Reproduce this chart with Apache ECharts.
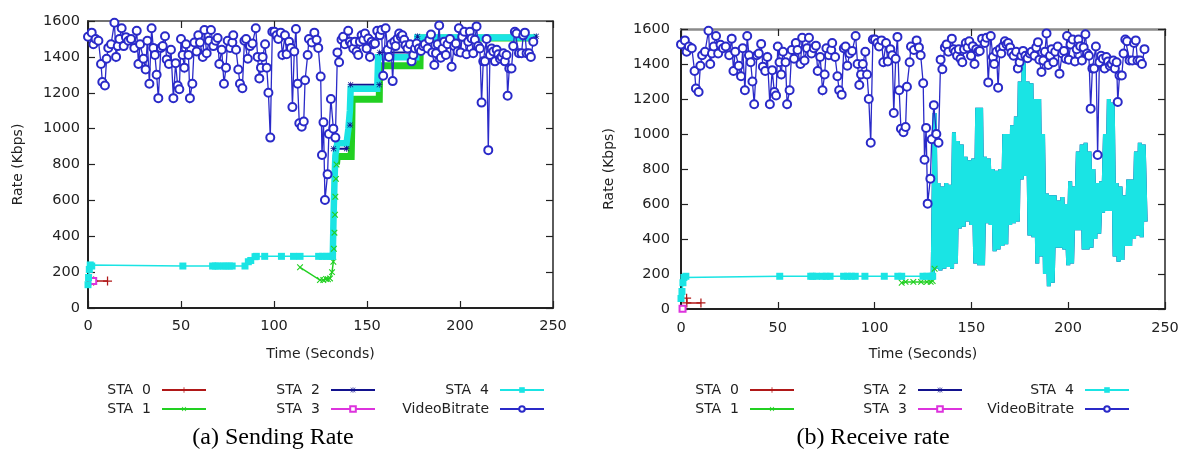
<!DOCTYPE html>
<html><head><meta charset="utf-8">
<script src="https://cdn.jsdelivr.net/npm/echarts@6/dist/echarts.min.js"></script>
<style>html,body{margin:0;padding:0;background:#fff}#c{width:1190px;height:456px}</style>
</head><body><div id="c"></div>
<script>
// ---------- Data ----------
const xTicks = [0, 50, 100, 150, 200, 250];
const yTicks = [0, 200, 400, 600, 800, 1000, 1200, 1400, 1600];

// VideoBitrate (same in both panels)
const vbTime = [0,2.0,2.9,4.1,5.6,7.0,7.7,9.1,10.0,10.9,12.4,14.2,15.1,16.0,16.9,18.1,19.2,20.4,21.7,23.1,24.9,26.2,27.1,28.0,29.8,31.0,31.9,33.0,34.2,35.1,36.0,36.9,37.8,39.2,40.2,41.4,42.3,43.5,44.6,45.9,47.1,48.2,49.1,50.0,50.9,51.8,52.7,54.0,54.8,56.1,57.2,58.4,59.3,60.2,61.7,62.6,63.8,65.1,66.1,67.4,68.6,69.7,70.6,71.9,73.1,74.2,75.1,76.4,77.6,78.1,79.6,80.8,81.7,83.0,84.1,85.0,85.9,87.1,88.4,90.2,91.2,92.1,93.0,93.9,95.2,96.1,97.0,98.0,99.1,100.2,101.4,102.3,103.6,104.5,105.9,106.8,108.1,109.1,109.9,110.9,111.8,112.7,113.6,114.9,116.0,116.7,118.1,118.8,120.3,121.7,122.9,123.8,125.1,125.8,126.6,127.4,128.8,129.5,130.6,131.9,133.0,134.1,135.0,136.3,137.2,138.1,139.9,140.8,141.7,142.6,143.5,144.4,145.3,146.2,147.1,148.0,148.9,149.8,150.7,151.6,152.5,153.4,154.3,155.5,156.9,157.8,158.7,160.0,161.1,161.8,162.9,163.8,164.7,165.4,166.4,167.3,168.2,169.0,170.0,170.7,171.8,173.1,174.0,174.9,175.8,176.7,177.9,179.0,180.2,181.1,182.6,183.5,184.4,185.1,186.2,187.1,188.0,188.8,189.7,190.6,191.5,192.4,193.3,194.6,195.5,196.9,197.8,198.7,199.4,200.3,201.2,202.3,203.5,204.4,205.3,206.2,207.1,208.0,208.9,209.8,210.7,211.6,212.5,213.4,214.3,215.2,216.1,217.0,217.9,218.8,219.7,220.6,221.5,222.4,223.3,224.1,225.0,225.6,226.5,227.7,228.6,229.5,230.4,231.7,233.1,234.0,234.9,235.8,237.1,238.1,239.4];
const vbRate = [1512,1535,1470,1500,1490,1360,1260,1240,1390,1450,1470,1590,1400,1460,1500,1560,1460,1510,1490,1500,1450,1545,1360,1470,1390,1330,1490,1250,1560,1450,1410,1300,1170,1450,1460,1515,1385,1360,1440,1170,1365,1240,1220,1500,1410,1340,1470,1410,1170,1250,1480,1430,1520,1480,1400,1550,1420,1490,1550,1460,1490,1505,1360,1440,1250,1340,1490,1450,1480,1520,1440,1330,1250,1225,1490,1500,1390,1460,1475,1560,1400,1280,1340,1400,1470,1340,1200,950,1540,1540,1520,1500,1535,1410,1520,1415,1485,1450,1120,1430,1555,1250,1030,1010,1040,1270,1410,1500,1480,1535,1495,1450,1290,853,1035,602,745,970,1165,1000,950,1425,1370,1495,1512,1470,1545,1485,1470,1447,1485,1430,1410,1485,1520,1495,1530,1447,1502,1400,1485,1470,1475,1545,1520,1550,1295,1560,1440,1400,1470,1265,1485,1460,1502,1530,1512,1520,1495,1465,1447,1470,1375,1410,1447,1475,1447,1433,1460,1470,1447,1495,1525,1425,1355,1420,1470,1575,1395,1447,1485,1410,1470,1500,1345,1460,1475,1430,1560,1425,1512,1540,1415,1485,1540,1502,1420,1495,1570,1460,1447,1145,1375,1375,1500,880,1410,1447,1430,1375,1440,1415,1390,1400,1420,1375,1410,1183,1335,1335,1460,1540,1530,1420,1420,1520,1535,1420,1420,1400,1485];

// (a) Sending rate
const sendSta0 = [[1.5,150],[3.0,150],[10.5,150]];
const sendSta1Low = [[114,227],[124.7,156],[126.5,156],[128,162],[129,160],[130.1,165],[131.2,200],[131.9,258],[132.2,330],[132.5,420],[132.8,520],[133.0,620],[133.3,720],[133.6,800]];
const sendSta1Steps = [[133.6,800],[134,845],[141.5,845],[141.8,1000],[142,1164],[156.6,1164],[156.8,1350],[178.5,1350],[178.7,1505],[241,1505]];
const sendSta2 = [[132,888],[139,888],[140.9,1020],[141.2,1245],[156.6,1245],[156.8,1425],[177,1425],[177.2,1515],[241,1515]];
const sendSta3 = [[2.5,150],[2.8,150]];
const sendSta4Low = [[0,130],[0.3,170],[0.7,215],[1.2,240],[2,234],[51,234],[67,234],[68.5,234],[70,234],[72.5,234],[74,234],[76,234],[77.5,234],[84.4,234],[86.2,258],[87.5,265],[89.8,286],[90.5,288],[95,288],[104,288],[110.5,288],[114,288],[124,288],[126,288],[128,288],[130,288],[131.5,288]];
const sendSta4Steps = [[131.6,288],[132,500],[132.5,700],[133,850],[134,918],[139,918],[140,1000],[140.8,1100],[141.2,1222],[155.5,1222],[156,1398],[176.5,1398],[177,1508],[241.5,1508]];

// (b) Receive rate
const rcvSta0 = [[2.9,62],[3.0,35],[10.3,35]];
const rcvSta1 = [[114,150],[116,155],[120,155],[124,155],[127,155],[129,155],[130,160],[131,230]];
const rcvSta3 = [[0.8,2]];
const rcvSta4Low = [[0,60],[0.5,100],[1,150],[1.5,180],[2.5,187],[51,187],[67,187],[68,187],[70,187],[73,187],[75,187],[77,187],[84,187],[86,187],[88,187],[90,187],[95,187],[105,187],[112,187],[114,187],[125,187],[127,187],[129,187],[130,187]];
// rapid oscillation: one sample per second from t = 130 to 240
const rcvOscStart = 130;
const rcvOscRate = [190,1120,230,720,220,700,230,720,240,710,230,1010,260,960,460,940,470,870,500,850,480,860,260,1150,250,1150,250,870,490,860,480,800,330,790,340,800,360,1000,370,1000,480,1050,490,1100,500,1300,740,1420,760,1300,420,1290,410,1200,260,1200,300,1000,200,660,130,650,150,650,350,620,350,640,340,600,250,730,260,700,450,900,450,940,340,950,340,900,350,800,400,720,430,730,550,1000,560,1200,560,1180,300,720,270,700,280,650,360,740,360,740,400,900,420,950,410,940,500];

// ---------- Chart ----------
const zip = (t, v) => t.map((x, i) => [x, v[i]]);
const vbData = zip(vbTime, vbRate);
const rcvOsc = rcvOscRate.map((v, i) => [rcvOscStart + i, v]);

const FONT = 'DejaVu Sans';
const COL = {red:'#b01818', green:'#22d022', navy:'#12128e', mag:'#dd33dd', cyan:'#1ae4e4', blue:'#2a2ac8'};
const PLUS = 'path://M4.3,0H5.7V4.3H10V5.7H5.7V10H4.3V5.7H0V4.3H4.3Z';
const STAR = 'path://M4.4,0H5.6V10H4.4Z M0,4.4H10V5.6H0Z M1.2,0.4L9.6,8.8L8.8,9.6L0.4,1.2Z M8.8,0.4L9.6,1.2L1.2,9.6L0.4,8.8Z';
const N = ['STA  0','STA  1','STA  2','STA  3','STA  4','VideoBitrate'];

function line(name, data, ax, color, o) {
  o = o || {};
  const s = {
    type:'line', name, data, xAxisIndex: ax*2, yAxisIndex: ax*2,
    symbol: o.symbol || 'none', symbolSize: o.size || 7, symbolRotate: o.rot || 0,
    showSymbol: !!o.symbol, showAllSymbol: true,
    lineStyle:{color, width: o.w || 1.5, cap:'butt', join:'miter'},
    itemStyle:{color: color},
    animation:false, silent:true, clip:true, z: 2
  };
  if (o.bw) s.itemStyle.borderWidth = o.bw;
  return s;
}

const series = [];
[[0, sendSta0, sendSta1Low, sendSta1Steps, sendSta2, sendSta3, sendSta4Low, sendSta4Steps],
 [1, rcvSta0, rcvSta1, null, rcvOsc, rcvSta3, rcvSta4Low, rcvOsc]].forEach(p => {
  const ax = p[0];
  series.push(line(N[0], p[1], ax, COL.red, {symbol: PLUS, size: 9}));
  series.push(line(N[1], p[2], ax, COL.green, {symbol: PLUS, rot: 45, size: 8}));
  if (p[3]) series.push(line(N[1], p[3], ax, COL.green, {w: 7}));
  if (ax === 0) series.push(line(N[2], p[4], ax, COL.navy, {symbol: STAR, size: 6, w: 2}));
  else series.push(line(N[2], p[4], ax, COL.navy, {w: 4}));
  series.push(line(N[3], p[5], ax, COL.mag, {symbol:'emptyRect', size: 6, bw: 1.2}));
  series.push(line(N[4], p[6], ax, COL.cyan, {symbol:'rect', size: 7}));
  series.push(line(N[4], p[7], ax, COL.cyan, {w: ax === 0 ? 6.5 : 4}));
  series.push(line(N[5], vbData, ax, COL.blue, {symbol:'emptyCircle', size: 8, bw: 1.2, w: 1.3}));
});

const grids = [
  {left:88, top:21, width:465, height:287},
  {left:681, top:29, width:484, height:280}
];
const lab = {fontFamily: FONT, fontSize: 14.5, color:'#222', formatter: v => String(v)};
const xAxes = [], yAxes = [];
[0, 1].forEach(g => {
  const topColor = g === 0 ? '#444' : '#8a8a8a';
  xAxes.push({type:'value', gridIndex:g, position:'bottom', min:xTicks[0], max:xTicks[xTicks.length-1], interval:xTicks[1]-xTicks[0],
    name:'Time (Seconds)', nameLocation:'middle', nameGap: g === 0 ? 39 : 38,
    nameTextStyle:{fontFamily:FONT, fontSize:14, color:'#222'},
    axisLine:{show:true, onZero:false, lineStyle:{color:'#222', width:2}},
    axisTick:{show:true, inside:true, length:7, lineStyle:{color:'#222', width:1.2}},
    axisLabel:Object.assign({margin: g === 0 ? 11 : 12}, lab), splitLine:{show:false}});
  xAxes.push({type:'value', gridIndex:g, position:'top', min:xTicks[0], max:xTicks[xTicks.length-1], interval:xTicks[1]-xTicks[0],
    axisLine:{show:true, onZero:false, lineStyle:{color:topColor, width: g === 0 ? 1.6 : 2.5}},
    axisTick:{show:true, inside:true, length:7, lineStyle:{color:'#222', width:1.2}},
    axisLabel:{show:false}, splitLine:{show:false}});
  yAxes.push({type:'value', gridIndex:g, position:'left', min:yTicks[0], max:yTicks[yTicks.length-1], interval:yTicks[1]-yTicks[0],
    name:'Rate (Kbps)', nameLocation:'middle', nameRotate:90, nameGap: g === 0 ? 63 : 65,
    nameTextStyle:{fontFamily:FONT, fontSize:14, color:'#222'},
    axisLine:{show:true, onZero:false, lineStyle:{color:'#222', width:2}},
    axisTick:{show:true, inside:true, length:7, lineStyle:{color:'#222', width:1.2}},
    axisLabel:Object.assign({margin: g === 0 ? 8 : 11}, lab), splitLine:{show:false}});
  yAxes.push({type:'value', gridIndex:g, position:'right', min:yTicks[0], max:yTicks[yTicks.length-1], interval:yTicks[1]-yTicks[0],
    axisLine:{show:true, onZero:false, lineStyle:{color:'#333', width:1.6}},
    axisTick:{show:true, inside:true, length:7, lineStyle:{color:'#222', width:1.2}},
    axisLabel:{show:false}, splitLine:{show:false}});
});

// legends: one per entry, text right-aligned before its sample line
const legendPos = [
  [[N[0],207,0],[N[1],207,1],[N[2],376,0],[N[3],376,1],[N[4],545,0],[N[5],545,1]],
  [[N[0],795,0],[N[1],795,1],[N[2],963,0],[N[3],963,1],[N[4],1130,0],[N[5],1130,1]]
];
const rowTop = [382, 401];
const legends = [];
legendPos.forEach(panel => panel.forEach(([name, xr, row]) => {
  legends.push({data:[name], right: 1190 - xr, top: rowTop[row], orient:'horizontal', align:'right',
    itemWidth:44, itemHeight:7, padding:0, selectedMode:false,
    textStyle:{fontFamily:FONT, fontSize:14, color:'#222', lineHeight:16, padding:[0,6,0,0]}});
}));

const chart = echarts.init(document.getElementById('c'), null, {renderer:'canvas'});
chart.setOption({
  backgroundColor:'#fff',
  animation:false,
  grid: grids,
  xAxis: xAxes,
  yAxis: yAxes,
  legend: legends,
  series,
  graphic:[
    {type:'text', x:273, y:438, style:{text:'(a) Sending Rate', font:'24px "Liberation Serif"', fill:'#000', textAlign:'center', textVerticalAlign:'middle', align:'center', verticalAlign:'middle'}},
    {type:'text', x:873, y:438, style:{text:'(b) Receive rate', font:'24px "Liberation Serif"', fill:'#000', textAlign:'center', textVerticalAlign:'middle', align:'center', verticalAlign:'middle'}}
  ]
});
</script></body></html>
